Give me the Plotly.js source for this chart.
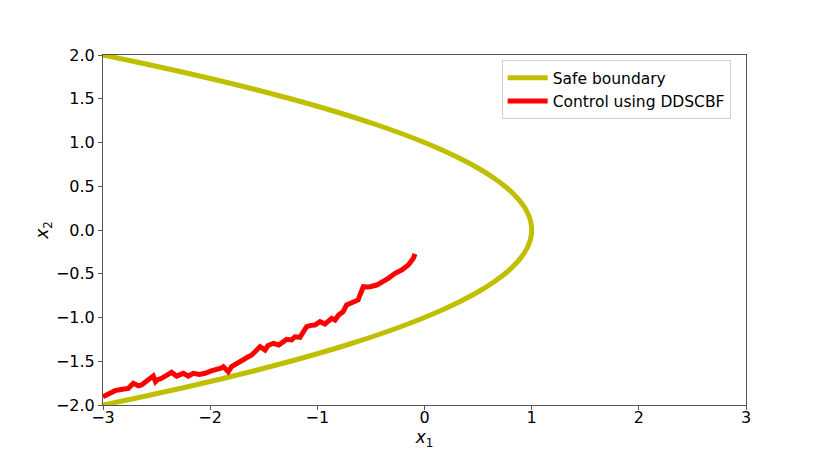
<!DOCTYPE html>
<html>
<head>
<meta charset="utf-8">
<script src="https://cdn.plot.ly/plotly-3.0.1.min.js"></script>
<style>html,body{margin:0;padding:0;background:#fff;}#chart{width:831px;height:456px;}</style>
</head>
<body>
<div id="chart"></div>
<script>
// Safe boundary
const boundaryX2 = [-2.0,-1.9,-1.8,-1.7,-1.6,-1.5,-1.4,-1.3,-1.2,-1.1,-1.0,-0.9,-0.8,-0.7,-0.6,-0.5,-0.4,-0.3,-0.2,-0.1,0.0,0.1,0.2,0.3,0.4,0.5,0.6,0.7,0.8,0.9,1.0,1.1,1.2,1.3,1.4,1.5,1.6,1.7,1.8,1.9,2.0];
const boundaryX1 = [-3.0,-2.61,-2.24,-1.89,-1.56,-1.25,-0.96,-0.69,-0.44,-0.21,0.0,0.19,0.36,0.51,0.64,0.75,0.84,0.91,0.96,0.99,1.0,0.99,0.96,0.91,0.84,0.75,0.64,0.51,0.36,0.19,0.0,-0.21,-0.44,-0.69,-0.96,-1.25,-1.56,-1.89,-2.24,-2.61,-3.0];

// Control trajectory using DDSCBF
const controlX1 = [-3.0,-2.95,-2.888,-2.82,-2.764,-2.717,-2.67,-2.64,-2.6,-2.56,-2.531,-2.51,-2.49,-2.453,-2.40,-2.36,-2.313,-2.28,-2.251,-2.204,-2.157,-2.10,-2.048,-1.99,-1.955,-1.90,-1.877,-1.831,-1.80,-1.75,-1.706,-1.66,-1.612,-1.57,-1.535,-1.488,-1.46,-1.426,-1.411,-1.36,-1.33,-1.287,-1.24,-1.209,-1.162,-1.13,-1.1,-1.06,-1.022,-0.975,-0.929,-0.866,-0.835,-0.80,-0.76,-0.727,-0.68,-0.65,-0.619,-0.602,-0.571,-0.54,-0.509,-0.446,-0.385,-0.338,-0.275,-0.213,-0.151,-0.104,-0.089];
const controlX2 = [-1.905,-1.87,-1.836,-1.82,-1.81,-1.752,-1.78,-1.771,-1.733,-1.70,-1.669,-1.733,-1.71,-1.695,-1.66,-1.627,-1.669,-1.65,-1.638,-1.669,-1.638,-1.65,-1.638,-1.61,-1.6,-1.58,-1.562,-1.62,-1.562,-1.52,-1.486,-1.46,-1.429,-1.37,-1.333,-1.371,-1.32,-1.303,-1.295,-1.314,-1.28,-1.25,-1.257,-1.22,-1.226,-1.16,-1.105,-1.09,-1.086,-1.048,-1.074,-1.01,-1.029,-0.97,-0.934,-0.857,-0.838,-0.82,-0.80,-0.743,-0.648,-0.65,-0.648,-0.629,-0.59,-0.552,-0.495,-0.457,-0.4,-0.324,-0.274];

const font = "DejaVu Sans, sans-serif";

const traces = [
  {x: boundaryX1, y: boundaryX2, mode: 'lines', name: 'Safe boundary',
   line: {color: '#bfbf00', width: 5, shape: 'spline'}},
  {x: controlX1, y: controlX2, mode: 'lines', name: 'Control using DDSCBF',
   line: {color: '#ff0000', width: 5}}
];

const axisCommon = {
  showgrid: false, zeroline: false, showline: true, mirror: true,
  linecolor: '#555', linewidth: 1, ticks: 'outside', ticklen: 4, tickcolor: '#555',
  tickfont: {family: font, size: 16, color: '#000'}
};

const layout = {
  width: 831, height: 456,
  margin: {l: 103, r: 85, t: 55, b: 51},
  paper_bgcolor: '#fff', plot_bgcolor: '#fff',
  showlegend: true,
  legend: {x: 0.62, y: 0.985, xanchor: 'left', yanchor: 'top', itemwidth: 40,
    bordercolor: '#d0d0d0', borderwidth: 1, bgcolor: 'rgba(255,255,255,0.8)',
    font: {family: font, size: 15.5, color: '#000'}},
  xaxis: Object.assign({}, axisCommon, {range: [-3, 3], tickvals: [-3,-2,-1,0,1,2,3],
    ticktext: ['\u22123','\u22122','\u22121','0','1','2','3'], ticklabelstandoff: -6,
    title: {text: '<i>x</i><sub>1</sub>', font: {family: font, size: 17, color: '#000'}, standoff: 0}}),
  yaxis: Object.assign({}, axisCommon, {range: [-2, 2], tickvals: [-2,-1.5,-1,-0.5,0,0.5,1,1.5,2],
    ticktext: ['\u22122.0','\u22121.5','\u22121.0','\u22120.5','0.0','0.5','1.0','1.5','2.0'],
    title: {text: '<i>x</i><sub>2</sub>', font: {family: font, size: 17, color: '#000'}, standoff: 2}})
};

Plotly.newPlot('chart', traces, layout, {displayModeBar: false, staticPlot: true});
</script>
</body>
</html>
